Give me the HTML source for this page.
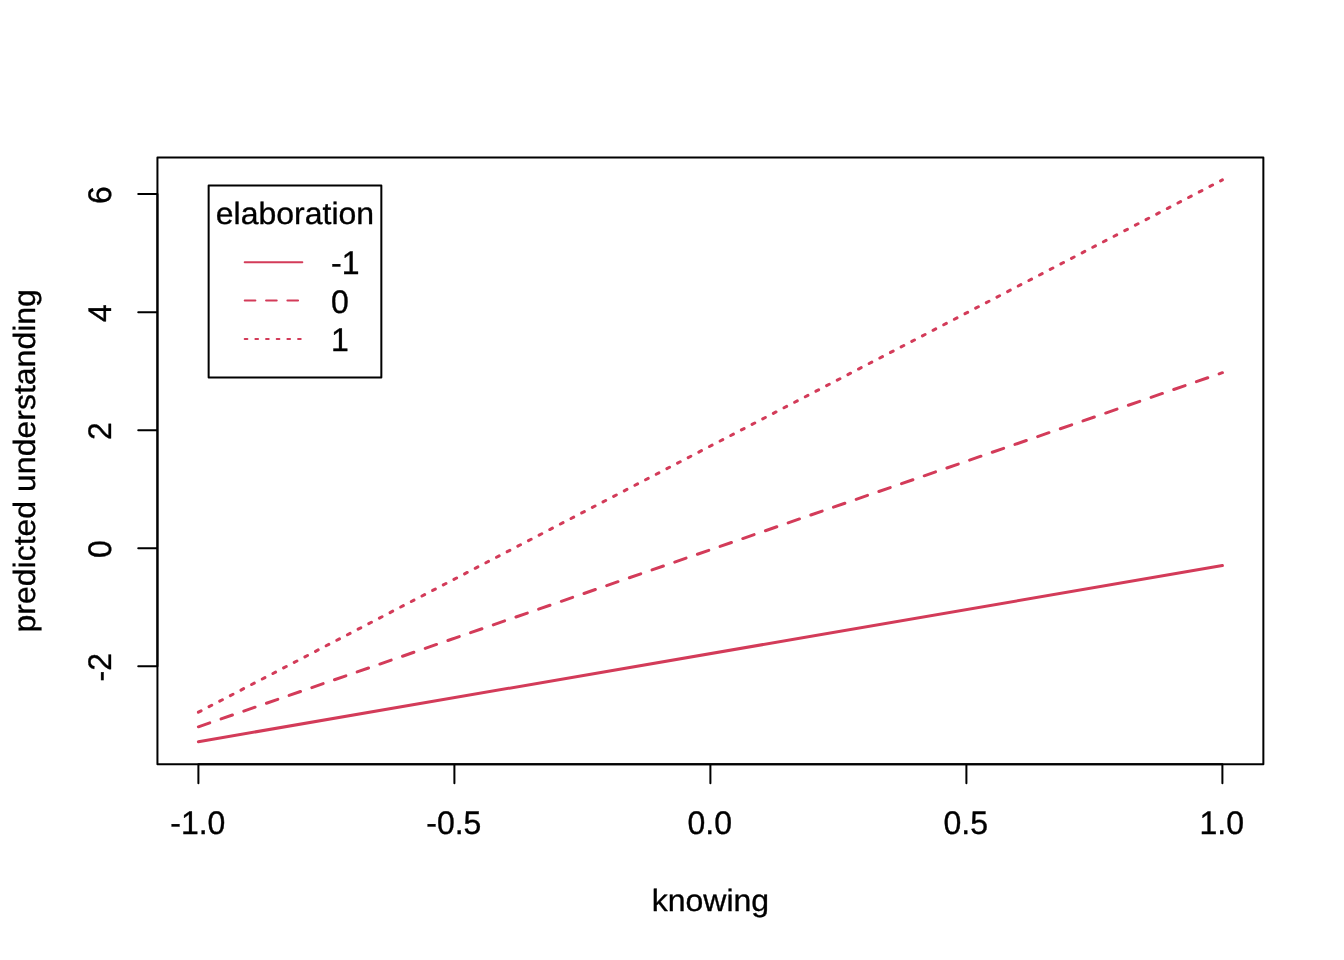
<!DOCTYPE html>
<html lang="en"><head><meta charset="utf-8"><title>predicted understanding by knowing and elaboration</title>
<style>
html,body{margin:0;padding:0;background:#fff;}
body{width:1344px;height:960px;overflow:hidden;}
svg{display:block;will-change:transform;}
text{font-family:"Liberation Sans",Arial,Helvetica,sans-serif;font-size:32px;fill:#000;stroke:#000;stroke-width:0.35px;stroke-linejoin:round;text-rendering:geometricPrecision;}
.ax{stroke:#000;stroke-width:2;stroke-linecap:round;stroke-linejoin:round;fill:none;}
.ln{stroke:#D33B59;stroke-width:3;stroke-linecap:round;fill:none;}
.lg{stroke:#D33B59;stroke-width:2;stroke-linecap:round;fill:none;}
</style></head><body>
<svg width="1344" height="960" viewBox="0 0 1344 960">
<line class="ln" x1="198.4" y1="741.69" x2="1222.4" y2="565.5"/>
<line class="ln" stroke-dasharray="12 12" x1="198.4" y1="726.8" x2="1222.4" y2="372.7"/>
<line class="ln" stroke-dasharray="3 9" x1="198.4" y1="712.2" x2="1222.4" y2="179.91"/>
<path class="ax" d="M198.4 764.16H1222.4M198.4 764.16v19.2M454.4 764.16v19.2M710.4 764.16v19.2M966.4 764.16v19.2M1222.4 764.16v19.2"/>
<text transform="translate(197.80 833.70) scale(1 1.02)" text-anchor="middle">-1.0</text>
<text transform="translate(453.80 833.70) scale(1 1.02)" text-anchor="middle">-0.5</text>
<text transform="translate(709.80 833.70) scale(1 1.02)" text-anchor="middle">0.0</text>
<text transform="translate(965.80 833.70) scale(1 1.02)" text-anchor="middle">0.5</text>
<text transform="translate(1221.80 833.70) scale(1 1.02)" text-anchor="middle">1.0</text>
<path class="ax" d="M157.44 666.36V194.12M157.44 666.36h-19.2M157.44 548.30h-19.2M157.44 430.24h-19.2M157.44 312.18h-19.2M157.44 194.12h-19.2"/>
<text transform="translate(110.80 667.26) rotate(-90) scale(1 1.02)" text-anchor="middle">-2</text>
<text transform="translate(110.80 549.20) rotate(-90) scale(1 1.02)" text-anchor="middle">0</text>
<text transform="translate(110.80 431.14) rotate(-90) scale(1 1.02)" text-anchor="middle">2</text>
<text transform="translate(110.80 313.08) rotate(-90) scale(1 1.02)" text-anchor="middle">4</text>
<text transform="translate(110.80 195.02) rotate(-90) scale(1 1.02)" text-anchor="middle">6</text>
<rect class="ax" x="157.44" y="157.44" width="1105.92" height="606.72"/>
<text transform="translate(710.40 911.00) scale(1 0.96)" text-anchor="middle">knowing</text>
<text transform="translate(35.00 460.80) rotate(-90) scale(1 0.96)" text-anchor="middle">predicted understanding</text>
<rect class="ax" x="208.64" y="185.4" width="172.7" height="192" style="fill:#fff"/>
<text transform="translate(294.99 223.80) scale(1 0.96)" text-anchor="middle">elaboration</text>
<line class="lg" x1="244.71" y1="262.20" x2="302.31" y2="262.20"/>
<text transform="translate(331.11 274.00) scale(1 1.02)">-1</text>
<line class="lg" stroke-dasharray="10.67 10.67" x1="244.71" y1="300.60" x2="302.31" y2="300.60"/>
<text transform="translate(331.11 313.10) scale(1 1.02)">0</text>
<line class="lg" stroke-dasharray="2.67 8" x1="244.71" y1="339.00" x2="302.31" y2="339.00"/>
<text transform="translate(331.11 350.80) scale(1 1.02)">1</text>
</svg>
</body></html>
